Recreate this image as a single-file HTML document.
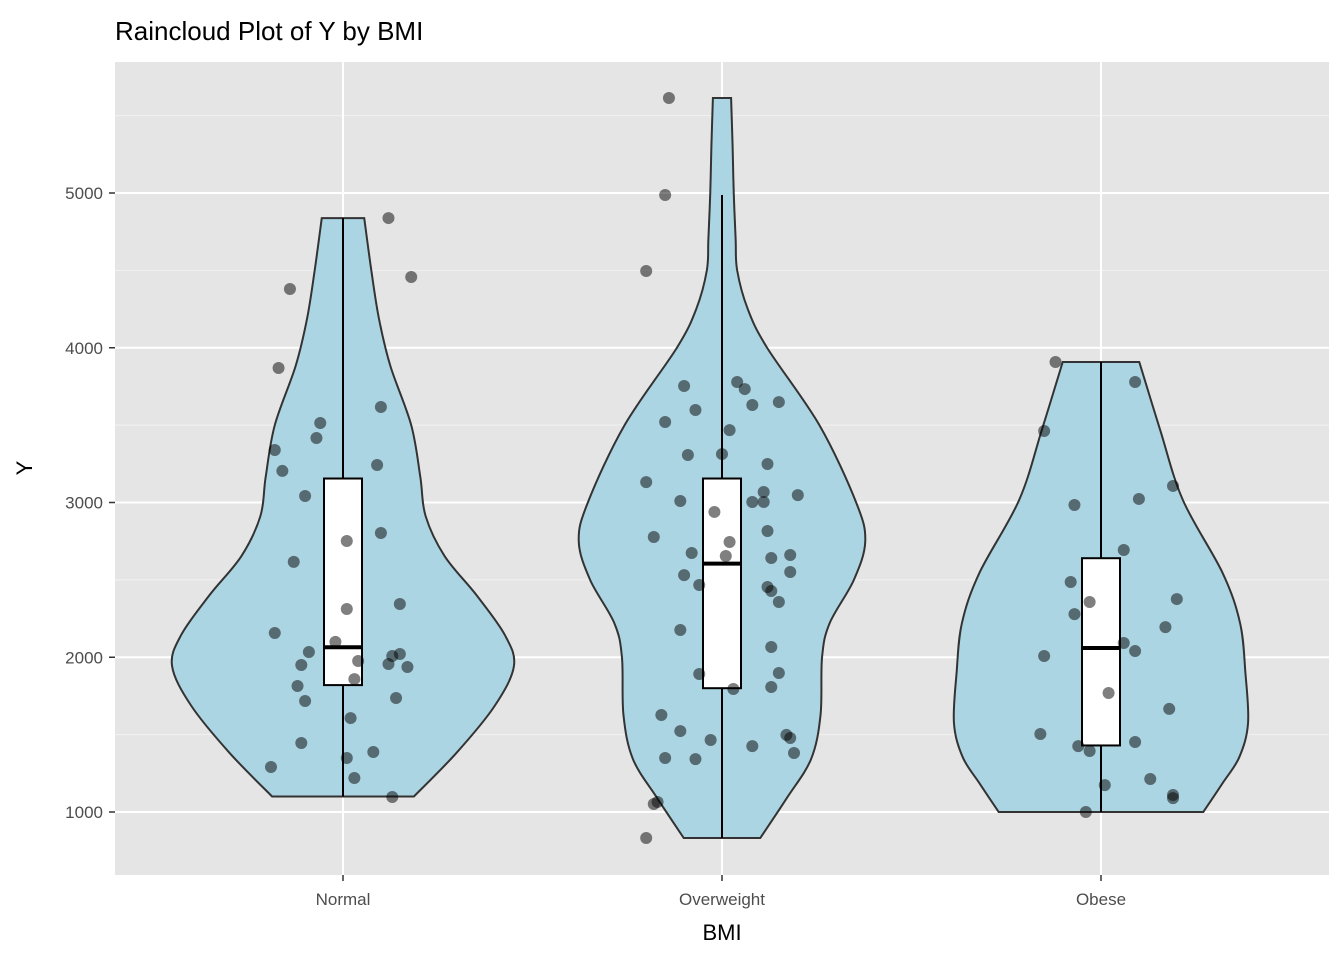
<!DOCTYPE html>
<html><head><meta charset="utf-8"><style>
body{margin:0;background:#fff;}
svg{display:block;font-family:"Liberation Sans",Arial,sans-serif;}
</style></head><body>
<svg id="c" width="1344" height="960"></svg>
<script>
const categories=["Normal","Overweight","Obese"];
const yTicks=[1000,2000,3000,4000,5000];
const yMinor=[1500,2500,3500,4500,5500];
const normalY=[4838,4457,4380,3869,3514,3617,3417,3339,3204,3242,3042,2751,2803,2616,2312,2344,2157,2034,2099,2021,2008,1976,1937,1956,1950,1859,1814,1717,1737,1446,1607,1388,1349,1291,1220,1097];
const normalJ=[.12,.18,-.14,-.17,-.06,.10,-.07,-.18,-.16,.09,-.10,.01,.10,-.13,.01,.15,-.18,-.09,-.02,.15,.13,.04,.17,.12,-.11,.03,-.12,-.10,.14,-.11,.02,.08,.01,-.19,.03,.13];
const overY=[5614,4987,4496,3753,3779,3733,3598,3630,3649,3520,3468,3313,3307,3249,3132,3068,3003,3010,3048,3003,2939,2816,2745,2777,2674,2661,2641,2654,2551,2531,2454,2467,2428,2357,2176,2066,1892,1898,1795,1808,1627,1498,1523,1465,1478,1426,1349,1342,1381,1065,1052,832];
const overJ=[-.14,-.15,-.20,-.10,.04,.06,-.07,.08,.15,-.15,.02,0,-.09,.12,-.20,.11,.11,-.11,.20,.08,-.02,.12,.02,-.18,-.08,.18,.13,.01,.18,-.10,.12,-.06,.13,.15,-.11,.13,-.06,.15,.03,.13,-.16,.17,-.11,-.03,.18,.08,-.15,-.07,.19,-.17,-.18,-.20];
const obeseY=[3908,3779,3462,3023,3107,2984,2693,2486,2376,2357,2279,2195,2092,2008,2040,1769,1666,1504,1426,1394,1452,1213,1174,1110,1090,1000];
const obeseJ=[-.12,.09,-.15,.10,.19,-.07,.06,-.08,.20,-.03,-.07,.17,.06,-.15,.09,.02,.18,-.16,-.06,-.03,.09,.13,.01,.19,.19,-.04];
// violin profiles: value, density half-width (category units)
const normalVv=[4838,4495,4186,3882,3500,3165,2912,2654,2402,2144,1943,1685,1381,1100];
const normalVd=[.056,.075,.095,.125,.18,.204,.218,.268,.352,.427,.451,.40,.299,.187];
const overVv=[5614,5300,5000,4700,4500,4250,4000,3500,3000,2750,2500,2220,2000,1627,1342,1090,832];
const overVd=[.024,.028,.031,.036,.04,.068,.119,.257,.354,.378,.348,.284,.264,.26,.235,.171,.101];
const obeseVv=[3908,3470,3016,2544,2220,1900,1575,1355,1187,1000];
const obeseVd=[.101,.156,.216,.321,.367,.381,.388,.365,.321,.27];
const boxQ1=[1820,1800,1430],boxMed=[2065,2605,2060],boxQ3=[3155,3155,2640],whLo=[1100,832,1000],whHi=[4838,4987,3908];
const pts=[[normalY,normalJ],[overY,overJ],[obeseY,obeseJ]];
const vio=[[normalVv,normalVd],[overVv,overVd],[obeseVv,obeseVd]];

const L=115,R=1329,T=62,B=875;
const Y=v=>812-(v-1000)*0.15475;
const X=i=>343+i*379;
const W=u=>u*379;
const svg=document.getElementById('c');
const NS='http://www.w3.org/2000/svg';
function mk(t,a,p){const e=document.createElementNS(NS,t);for(const k in a)e.setAttribute(k,a[k]);(p||svg).appendChild(e);return e;}
let e;
e=mk('rect',{x:L,y:T,width:R-L,height:B-T,fill:'#e5e5e5'});


yMinor.forEach(v=>{if(Y(v)>T){e=mk('line',{x1:L,x2:R,y1:Y(v),y2:Y(v),stroke:'#f2f2f2','stroke-width':1});

}});
yTicks.forEach(v=>{e=mk('line',{x1:L,x2:R,y1:Y(v),y2:Y(v),stroke:'#fff','stroke-width':2});


e=mk('line',{x1:109,x2:L,y1:Y(v),y2:Y(v),stroke:'#333','stroke-width':1.5});


e=mk('text',{x:103,y:Y(v)+6,'text-anchor':'end','font-size':17,fill:'#4d4d4d'});e.textContent=v;

});
categories.forEach((c,i)=>{e=mk('line',{x1:X(i),x2:X(i),y1:T,y2:B,stroke:'#fff','stroke-width':2});


e=mk('line',{x1:X(i),x2:X(i),y1:B,y2:B+6,stroke:'#333','stroke-width':1.5});


e=mk('text',{x:X(i),y:905,'text-anchor':'middle','font-size':17,fill:'#4d4d4d'});e.textContent=c;

});
function smooth(p){let d='M'+p[0][0]+','+p[0][1];for(let i=0;i<p.length-1;i++){const p0=p[Math.max(0,i-1)],p1=p[i],p2=p[i+1],p3=p[Math.min(p.length-1,i+2)];
d+=' C'+(p1[0]+(p2[0]-p0[0])/6)+','+(p1[1]+(p2[1]-p0[1])/6)+' '+(p2[0]-(p3[0]-p1[0])/6)+','+(p2[1]-(p3[1]-p1[1])/6)+' '+p2[0]+','+p2[1];}return d;}
vio.forEach(([vv,vd],i)=>{const cx=X(i);
const rt=vv.map((v,k)=>[cx+W(vd[k]),Y(v)]);const lf=vv.map((v,k)=>[cx-W(vd[k]),Y(v)]).reverse();
let d=smooth(rt)+' L'+lf[0][0]+','+lf[0][1]+' '+smooth(lf).slice(1).replace(/^[^C]*/,'')+' Z';
e=mk('path',{d:d,fill:'#acd5e3',stroke:'#333','stroke-width':2});

});
categories.forEach((c,i)=>{const cx=X(i),hw=19;
e=mk('line',{x1:cx,x2:cx,y1:Y(whLo[i]),y2:Y(whHi[i]),stroke:'#000','stroke-width':2});


e=mk('rect',{x:cx-hw,y:Y(boxQ3[i]),width:2*hw,height:Y(boxQ1[i])-Y(boxQ3[i]),fill:'#fff',stroke:'#000','stroke-width':2});


e=mk('line',{x1:cx-hw,x2:cx+hw,y1:Y(boxMed[i]),y2:Y(boxMed[i]),stroke:'#000','stroke-width':4});

});
pts.forEach(([ys,js],i)=>ys.forEach((v,k)=>{e=mk('circle',{cx:X(i)+W(js[k]),cy:Y(v),r:6,fill:'rgba(0,0,0,0.5)'});

}));
e=mk('text',{x:722,y:940,'text-anchor':'middle','font-size':22,fill:'#000'});e.textContent='BMI';


e=mk('text',{x:32,y:468,'text-anchor':'middle','font-size':22,fill:'#000',transform:'rotate(-90 32 468)'});e.textContent='Y';


e=mk('text',{x:115,y:40,'font-size':26,fill:'#000'});e.textContent='Raincloud Plot of Y by BMI';


</script>
</body></html>
